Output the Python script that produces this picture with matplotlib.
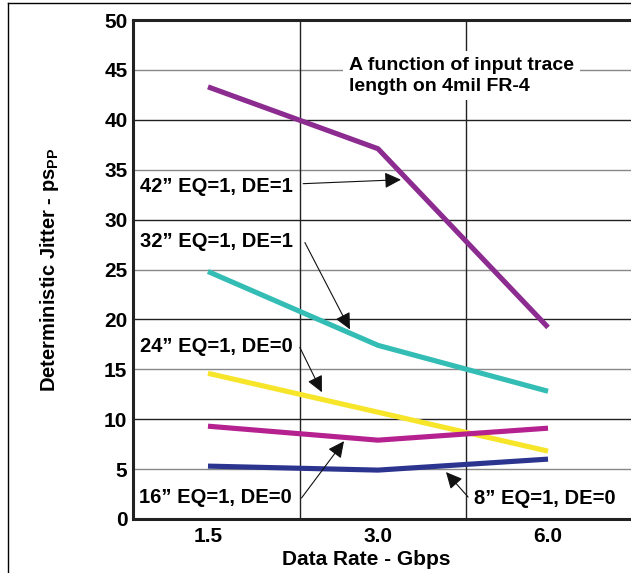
import matplotlib.pyplot as plt
import numpy as np
from matplotlib.lines import Line2D

plt.rcParams['font.family'] = 'Liberation Sans'
plt.rcParams['font.weight'] = 'bold'
plt.rcParams['mathtext.fontset'] = 'custom'
plt.rcParams['mathtext.bf'] = 'Liberation Sans:bold'
plt.rcParams['mathtext.rm'] = 'Liberation Sans:bold'

# Data
rates = ['1.5', '3.0', '6.0']
jit_42 = [43.3, 37.1, 19.2]
jit_32 = [24.8, 17.4, 12.8]
jit_24 = [14.6, 10.7, 6.8]
jit_16 = [9.3, 7.9, 9.1]
jit_8 = [5.3, 4.9, 6.0]

colors = {'42': '#8C2B90', '32': '#33BDB5', '24': '#F7E52A',
          '16': '#B5218E', '8': '#2B3590'}

fig = plt.figure(figsize=(6.31, 5.73), dpi=100)
ax = fig.add_axes([133/631, 1-519/573, 1-133/631, (519-20)/573])

x = np.arange(len(rates))

# grid
for yv in range(5, 50, 5):
    ax.axhline(yv, color='#222222' if yv % 10 == 0 else '#888888', lw=1.0, zorder=1)
for xv in [0.54, 1.52]:
    ax.axvline(xv, color='#222222', lw=1.0, zorder=1)

for key, vals in [('42', jit_42), ('32', jit_32), ('24', jit_24),
                  ('16', jit_16), ('8', jit_8)]:
    ax.plot(x, vals, color=colors[key], lw=3.7, solid_capstyle='butt', zorder=3)

ax.set_xlim(-0.441, 2.488)
ax.set_ylim(0, 50)
ax.set_yticks(range(0, 51, 5))
ax.set_xticks(x)
ax.set_xticklabels(rates)
ax.tick_params(length=0, labelsize=15, pad=4)
ax.tick_params(axis='x', pad=6)
for s in ['left', 'top', 'bottom']:
    ax.spines[s].set_linewidth(2.2)
    ax.spines[s].set_color('#222222')
ax.spines['right'].set_visible(False)

ax.set_xlabel('Data Rate - Gbps', fontsize=15, fontweight='bold')
ax.xaxis.set_label_coords((366-133)/498, -0.062)
ax.set_ylabel(r'Deterministic Jitter - ps$_{\mathbf{PP}}$', fontsize=14.5, fontweight='bold')
ax.yaxis.set_label_coords(-0.145, 0.5)

box = dict(facecolor='white', edgecolor='none', pad=2)
arrow = dict(arrowstyle='-|>,head_length=0.45,head_width=0.22', color='#111111',
             lw=0.8, mutation_scale=22, shrinkA=0, shrinkB=0)

ax.text(0.83, 44.4, 'A function of input trace\nlength on 4mil FR-4', fontsize=14,
        fontweight='bold', ha='left', va='center', linespacing=1.3,
        bbox=dict(facecolor='white', edgecolor='none', pad=4), zorder=4)

labels = [
    ('42\u201d EQ=1, DE=1', (-0.40, 33.3), (0.56, 33.6), (1.135, 34.0)),
    ('32\u201d EQ=1, DE=1', (-0.40, 27.8), (0.57, 27.7), (0.835, 19.0)),
    ('24\u201d EQ=1, DE=0', (-0.40, 17.3), (0.54, 17.2), (0.67, 12.7)),
    ('16\u201d EQ=1, DE=0', (-0.405, 2.2), (0.55, 2.1), (0.80, 7.8)),
    ('8\u201d EQ=1, DE=0', (1.565, 2.1), (1.53, 2.2), (1.40, 4.7)),
]
for txt, tpos, a0, a1 in labels:
    ax.text(tpos[0], tpos[1], txt, fontsize=14.5, fontweight='bold',
            ha='left', va='center', bbox=box, zorder=4)
    ax.annotate('', xy=a1, xytext=a0, arrowprops=arrow, zorder=5)

# outer border
fig.add_artist(Line2D([8/631, 8/631], [0, 1-3/573], color='black', lw=1.0))
fig.add_artist(Line2D([8/631, 1], [1-3/573, 1-3/573], color='black', lw=1.0))

fig.savefig('out.png', dpi=100)
